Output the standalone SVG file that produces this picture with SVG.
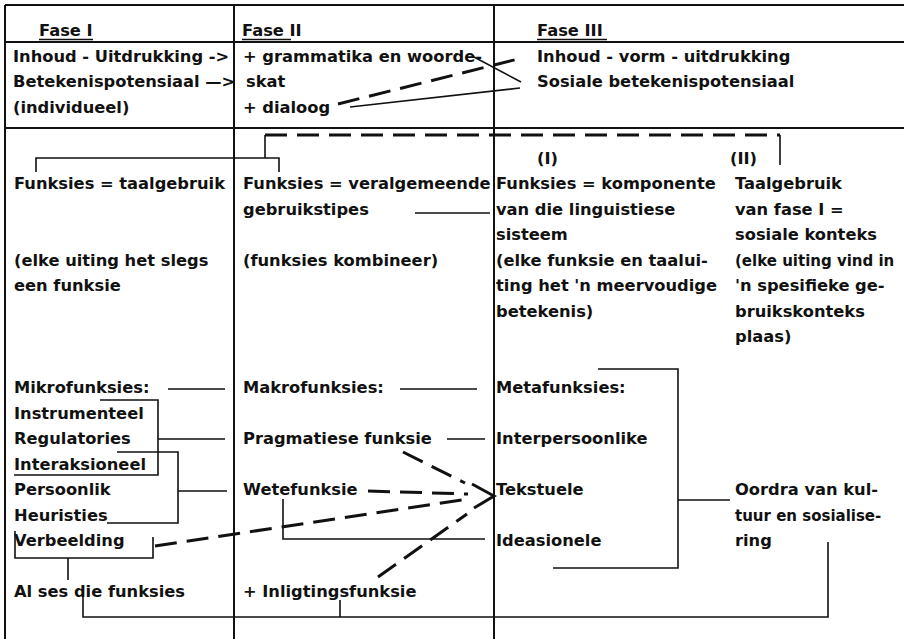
<svg xmlns="http://www.w3.org/2000/svg" width="904" height="639" viewBox="0 0 904 639">
<style>
.t{font-family:"DejaVu Sans","Liberation Sans",sans-serif;font-weight:bold;font-size:16.3px;fill:#111}
.sm{font-size:15px}
.rule{stroke:#111;stroke-width:2;fill:none}
.ln{stroke:#111;stroke-width:1.6;fill:none}
.ds{stroke:#111;stroke-width:3;stroke-dasharray:22 10;fill:none}
.ul{stroke:#111;stroke-width:1.4;fill:none}
</style>
<rect width="904" height="639" fill="#fff"/>
<g id="frame">
<path class="rule" d="M5,5 H904 M5,42 H904 M5,128 H904 M5,5 V639 M234,5 V639 M494,5 V639"/>
</g>
<g id="headers">
<text class="t" x="39" y="36">Fase I</text>
<text class="t" x="242" y="36">Fase II</text>
<text class="t" x="537" y="36">Fase III</text>
<path class="ul" d="M39,39.5 H93 M242,39.5 H291 M537,39.5 H607"/>
</g>
<g id="fase1-top">
<text class="t" x="13" y="61.5">Inhoud - Uitdrukking -&gt;</text>
<text class="t" x="13" y="87">Betekenispotensiaal —&gt;</text>
<text class="t" x="13" y="112.5">(individueel)</text>
</g>
<g id="fase2-top">
<text class="t" x="243" y="61.5">+ grammatika en woorde-</text>
<text class="t" x="246" y="87">skat</text>
<text class="t" x="243" y="112.5">+ dialoog</text>
</g>
<g id="fase3-top">
<text class="t" x="537" y="61.5">Inhoud - vorm - uitdrukking</text>
<text class="t" x="537" y="87">Sosiale betekenispotensiaal</text>
</g>
<g id="fase1-funksies">
<text class="t" x="14" y="189">Funksies = taalgebruik</text>
<text class="t" x="14" y="265.5">(elke uiting het slegs</text>
<text class="t" x="14" y="291">een funksie</text>
</g>
<g id="fase2-funksies">
<text class="t" x="243" y="189">Funksies = veralgemeende</text>
<text class="t" x="243" y="214.5">gebruikstipes</text>
<text class="t" x="243" y="265.5">(funksies kombineer)</text>
</g>
<g id="fase3-i">
<text class="t" x="537" y="163.5">(I)</text>
<text class="t" x="496" y="189">Funksies = komponente</text>
<text class="t" x="496" y="214.5">van die linguistiese</text>
<text class="t" x="496" y="240">sisteem</text>
<text class="t" x="496" y="265.5">(elke funksie en taalui-</text>
<text class="t" x="496" y="291">ting het 'n meervoudige</text>
<text class="t" x="496" y="316.5">betekenis)</text>
</g>
<g id="fase3-ii">
<text class="t" x="730" y="163.5">(II)</text>
<text class="t" x="735" y="189">Taalgebruik</text>
<text class="t" x="735" y="214.5">van fase I =</text>
<text class="t" x="735" y="240">sosiale konteks</text>
<text class="t sm" x="735" y="265.5">(elke uiting vind in</text>
<text class="t" x="735" y="291">'n spesifieke ge-</text>
<text class="t" x="735" y="316.5">bruikskonteks</text>
<text class="t" x="735" y="342">plaas)</text>
</g>
<g id="mikrofunksies">
<text class="t" x="14" y="393">Mikrofunksies:</text>
<text class="t" x="14" y="418.5">Instrumenteel</text>
<text class="t" x="14" y="444">Regulatories</text>
<text class="t" x="14" y="469.5">Interaksioneel</text>
<text class="t" x="14" y="495">Persoonlik</text>
<text class="t" x="14" y="520.5">Heuristies</text>
<text class="t" x="14" y="546">Verbeelding</text>
</g>
<g id="al-ses">
<text class="t" x="14" y="597">Al ses die funksies</text>
</g>
<g id="makrofunksies">
<text class="t" x="243" y="393">Makrofunksies:</text>
<text class="t" x="243" y="444">Pragmatiese funksie</text>
<text class="t" x="243" y="495">Wetefunksie</text>
</g>
<g id="inligting">
<text class="t" x="243" y="597">+ Inligtingsfunksie</text>
</g>
<g id="metafunksies">
<text class="t" x="496" y="393">Metafunksies:</text>
<text class="t" x="496" y="444">Interpersoonlike</text>
<text class="t" x="496" y="495">Tekstuele</text>
<text class="t" x="496" y="546">Ideasionele</text>
</g>
<g id="oordra">
<text class="t" x="735" y="495">Oordra van kul-</text>
<text class="t sm" x="735" y="520.5">tuur en sosialise-</text>
<text class="t" x="735" y="546">ring</text>
</g>
<g id="connectors">
<path class="ds" d="M338,104 L522,58"/>
<path class="ln" d="M350,107 L520,88 M474,57 L521,82"/>
<path class="ln" d="M36,172 V158 H279 V172 M265,158 V135 M780,135 V165"/>
<path class="ds" d="M265,135 H780"/>
<path class="ln" d="M415,213 H490"/>
<path class="ln" d="M168,389 H225 M400,389 H477 M158,439 H225 M447,439 H485 M178,491 H227"/>
<path class="ln" d="M14,475 H158 V400 H100 M117,452 H178 V523 H107"/>
<path class="ln" d="M15,531 V558 H153 V537 M68,558 V580"/>
<path class="ln" d="M83,588 V617 H828 V542 M340,600 V617"/>
<path class="ln" d="M283,499 V539 H485"/>
<path class="ln" d="M598,369 H678 V568 H553 M678,500 H730"/>
<path class="ds" d="M403,452 L465,483 M368,491 L468,494 M155,546 L468,499 M378,577 L467,514"/>
<path class="ln" style="stroke-width:3" d="M472,484 L494,496 L474,508"/>
</g>
</svg>
